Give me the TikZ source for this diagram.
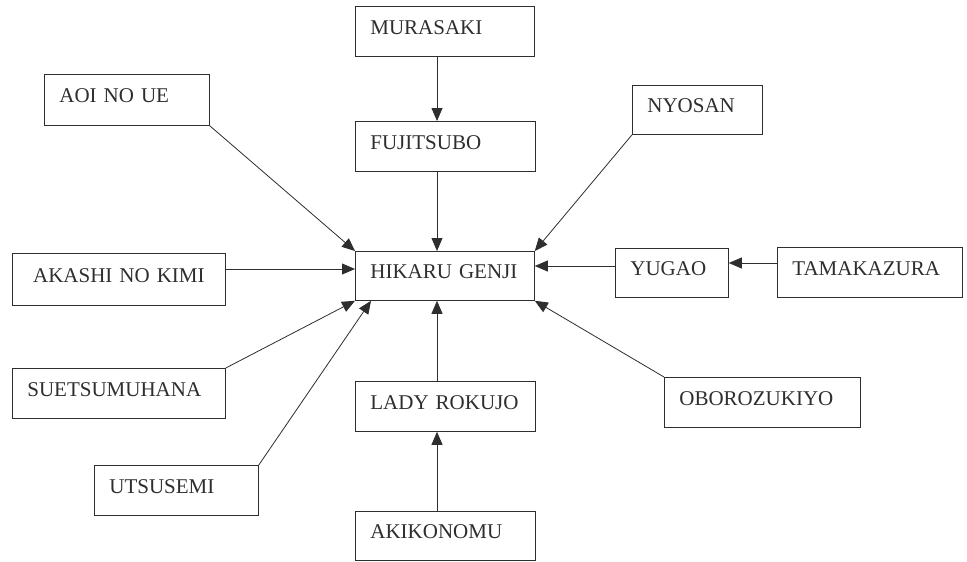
\documentclass[tikz,border=0pt]{standalone}
\usepackage{fontspec}
\setmainfont{Liberation Serif}
\usetikzlibrary{arrows.meta}
\definecolor{ink}{HTML}{2E2E2E}
\tikzset{
  box/.style={draw=ink, line width=0.8pt, rectangle, anchor=north west,
    inner xsep=15pt, inner ysep=0pt, text=ink, align=left,
    font=\fontsize{21}{24}\selectfont, text height=14pt, text depth=8pt},
  arr/.style={draw=ink, line width=0.8pt,
    -{Triangle[length=13pt,width=11pt]}}
}
\begin{document}
\begin{tikzpicture}[x=1pt,y=-1pt]
\useasboundingbox[fill=white] (0,0) rectangle (967,562);
\node[box, minimum width=179pt, minimum height=50pt, text width=149pt] (mur) at (355,6) {MURASAKI};
\node[box, minimum width=180pt, minimum height=50pt, text width=150pt] (fuj) at (355,121) {FUJITSUBO};
\node[box, minimum width=165pt, minimum height=51pt, text width=135pt] (aoi) at (44,74) {AOI NO UE};
\node[box, minimum width=130pt, minimum height=49pt, text width=100pt] (nyo) at (632,85) {NYOSAN};
\node[box, minimum width=213pt, minimum height=52pt, text width=183pt, align=center] (aka) at (12,253) {AKASHI NO KIMI};
\node[box, minimum width=179pt, minimum height=49pt, text width=149pt] (hik) at (355,251) {HIKARU GENJI};
\node[box, minimum width=113pt, minimum height=49pt, text width=83pt] (yug) at (615,248) {YUGAO};
\node[box, minimum width=185pt, minimum height=50pt, text width=155pt] (tam) at (777,247) {TAMAKAZURA};
\node[box, minimum width=213pt, minimum height=50pt, text width=183pt] (sue) at (12,368) {SUETSUMUHANA};
\node[box, minimum width=180pt, minimum height=50pt, text width=150pt] (lad) at (355,381) {LADY ROKUJO};
\node[box, minimum width=196pt, minimum height=50pt, text width=166pt] (obo) at (664,377) {OBOROZUKIYO};
\node[box, minimum width=164pt, minimum height=50pt, text width=134pt] (uts) at (94,465) {UTSUSEMI};
\node[box, minimum width=180pt, minimum height=49pt, text width=150pt] (aki) at (355,511) {AKIKONOMU};

\draw[arr] ([xshift=82pt]mur.south west) -- ([xshift=82pt]fuj.north west);
\draw[arr] ([xshift=82pt]fuj.south west) -- ([xshift=82pt]hik.north west);
\draw[arr] (aoi.south east) -- (hik.north west);
\draw[arr] (nyo.south west) -- (hik.north east);
\draw[arr] ([yshift=-16pt]aka.north east) -- ([yshift=-18pt]hik.north west);
\draw[arr] ([yshift=-18pt]yug.north west) -- ([yshift=-15pt]hik.north east);
\draw[arr] ([yshift=-16pt]tam.north west) -- ([yshift=-15pt]yug.north east);
\draw[arr] (sue.north east) -- (hik.south west);
\draw[arr] (uts.north east) -- ([xshift=16pt]hik.south west);
\draw[arr] (obo.north west) -- (hik.south east);
\draw[arr] ([xshift=82pt]lad.north west) -- ([xshift=82pt]hik.south west);
\draw[arr] ([xshift=82pt]aki.north west) -- ([xshift=82pt]lad.south west);
\end{tikzpicture}
\end{document}
